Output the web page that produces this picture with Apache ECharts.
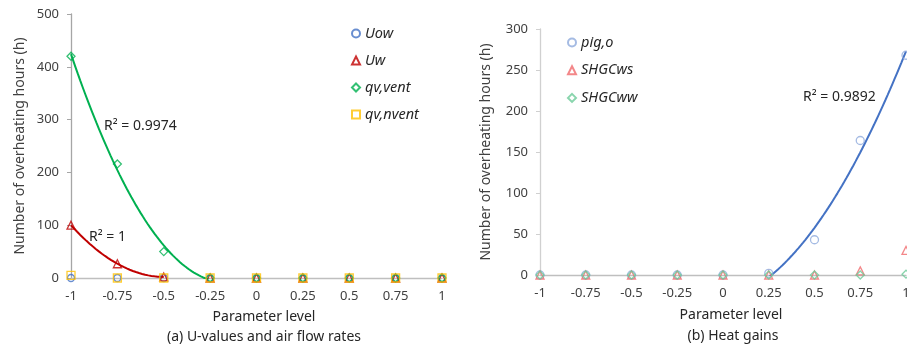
<!DOCTYPE html>
<html><head><meta charset="utf-8">
<script src="https://cdn.jsdelivr.net/npm/echarts@6/dist/echarts.min.js"></script>
<style>html,body{margin:0;padding:0;background:#fff}#c{width:907px;height:348px}</style>
</head><body><div id="c"></div>
<script>
// Parameter levels shared by both panels
const levels = [-1, -0.75, -0.5, -0.25, 0, 0.25, 0.5, 0.75, 1];
const levelLabels = ['-1', '-0.75', '-0.5', '-0.25', '0', '0.25', '0.5', '0.75', '1'];

// (a) U-values and air flow rates — overheating hours
const uow     = [0, 0, 0, 0, 0, 0, 0, 0, 0];
const uw      = [100, 27, 2, 0, 0, 0, 0, 0, 0];
const qvVent  = [420, 216, 50, 0, 0, 0, 0, 0, 0];
const qvNvent = [5, 0, 0, 0, 0, 0, 0, 0, 0];

// (b) Heat gains — overheating hours
const pigO   = [0, 0, 0, 0, 0, 2, 43, 164, 268];
const shgcWs = [0, 0, 0, 0, 0, 0, 0, 5, 30];
const shgcWw = [0, 0, 0, 0, 0, 0, 0, 0, 1];

const yTicksA = [0, 100, 200, 300, 400, 500];
const yTicksB = [0, 50, 100, 150, 200, 250, 300];
const r2Labels = ['R² = 0.9974', 'R² = 1', 'R² = 0.9892'];

// Least-squares quadratic trendline over the points [from, to]
function quadFit(ys, from, to) {
  const xs = levels.slice(from, to + 1), yv = ys.slice(from, to + 1);
  const S = [0, 0, 0, 0, 0], T = [0, 0, 0];
  xs.forEach((x, i) => {
    for (let k = 0; k < 5; k++) S[k] += Math.pow(x, k);
    for (let k = 0; k < 3; k++) T[k] += yv[i] * Math.pow(x, k);
  });
  const M = [[S[0], S[1], S[2], T[0]], [S[1], S[2], S[3], T[1]], [S[2], S[3], S[4], T[2]]];
  for (let i = 0; i < 3; i++) {
    for (let j = i + 1; j < 3; j++) {
      const f = M[j][i] / M[i][i];
      for (let k = i; k < 4; k++) M[j][k] -= f * M[i][k];
    }
  }
  const c = [0, 0, 0];
  for (let i = 2; i >= 0; i--) {
    let s = M[i][3];
    for (let k = i + 1; k < 3; k++) s -= M[i][k] * c[k];
    c[i] = s / M[i][i];
  }
  const pts = [], x0 = xs[0], x1 = xs[xs.length - 1], n = 60;
  for (let i = 0; i <= n; i++) {
    const x = x0 + (x1 - x0) * i / n;
    pts.push([x, c[0] + c[1] * x + c[2] * x * x]);
  }
  return pts;
}

const pairs = ys => levels.map((x, i) => [x, ys[i]]);
const FONT = '"Noto Sans", sans-serif';
const TXT = '#404040';

function marker(name, ys, symbol, color, size, idx) {
  return {
    name, type: 'scatter', xAxisIndex: idx, yAxisIndex: idx,
    data: pairs(ys), symbol, symbolSize: size,
    itemStyle: { color: 'rgba(255,255,255,0)', borderColor: color, borderWidth: 1.3 },
    emphasis: { disabled: true }, z: 3
  };
}
function trend(pts, color, idx) {
  return {
    type: 'line', xAxisIndex: idx, yAxisIndex: idx, data: pts, showSymbol: false,
    lineStyle: { color, width: 2 }, silent: true, z: 2, clip: true
  };
}

function xAxis(gi) {
  return {
    type: 'value', gridIndex: gi, min: -1, max: 1, interval: 0.25,
    axisLine: { onZero: false, lineStyle: { color: '#BFBFBF', width: 1.3 } },
    axisTick: { show: false }, splitLine: { show: false },
    axisLabel: {
      color: TXT, fontFamily: FONT, fontSize: 13, margin: 12,
      formatter: v => levelLabels[levels.indexOf(v)] ?? ''
    }
  };
}
function yAxis(gi, ticks, lineColor, gap) {
  return {
    type: 'value', gridIndex: gi, min: ticks[0], max: ticks[ticks.length - 1],
    interval: ticks[1] - ticks[0],
    name: 'Number of overheating hours (h)', nameLocation: 'middle', nameGap: gap,
    nameTextStyle: { color: TXT, fontFamily: FONT, fontSize: 14 },
    axisLine: { show: true, onZero: false, lineStyle: { color: lineColor, width: 1.3 } },
    axisTick: { show: true, length: 4, lineStyle: { color: lineColor } },
    splitLine: { show: false },
    axisLabel: { color: TXT, fontFamily: FONT, fontSize: 13, margin: 12 }
  };
}

const legendText = { color: '#262626', fontFamily: FONT, fontSize: 14.5, fontStyle: 'italic' };

const chart = echarts.init(document.getElementById('c'), null, { renderer: 'canvas' });
chart.setOption({
  animation: false,
  backgroundColor: '#fff',
  grid: [
    { left: 71, top: 14, width: 371, height: 264, outerBoundsMode: 'none', containLabel: false },
    { left: 540, top: 29, width: 366, height: 246, outerBoundsMode: 'none', containLabel: false }
  ],
  xAxis: [xAxis(0), xAxis(1)],
  yAxis: [yAxis(0, yTicksA, '#A6A6A6', 44), yAxis(1, yTicksB, '#D0D0D0', 47)],
  legend: [
    {
      data: ['Uow', 'Uw', 'qv,vent', 'qv,nvent'], orient: 'vertical', padding: 0,
      left: 351, top: 26, itemWidth: 8, itemHeight: 8, itemGap: 12,
      textStyle: legendText
    },
    {
      data: ['pig,o', 'SHGCws', 'SHGCww'], orient: 'vertical', padding: 0,
      left: 567, top: 35, itemWidth: 8, itemHeight: 8, itemGap: 12.7,
      textStyle: legendText
    }
  ],
  graphic: [
    { type: 'text', left: 104, top: 119, style: { text: r2Labels[0], fill: '#262626', font: '14px ' + FONT } },
    { type: 'text', left: 89, top: 230, style: { text: r2Labels[1], fill: '#262626', font: '14px ' + FONT } },
    { type: 'text', left: 803, top: 90, style: { text: r2Labels[2], fill: '#262626', font: '14px ' + FONT } },
    { type: 'text', x: 264, y: 317, style: { text: 'Parameter level', fill: '#262626', font: '14px ' + FONT, textAlign: 'center', textVerticalAlign: 'middle' } },
    { type: 'text', x: 264, y: 337, style: { text: '(a) U-values and air flow rates', fill: '#262626', font: '14px ' + FONT, textAlign: 'center', textVerticalAlign: 'middle' } },
    { type: 'text', x: 731, y: 315, style: { text: 'Parameter level', fill: '#262626', font: '14px ' + FONT, textAlign: 'center', textVerticalAlign: 'middle' } },
    { type: 'text', x: 733, y: 336, style: { text: '(b) Heat gains', fill: '#262626', font: '14px ' + FONT, textAlign: 'center', textVerticalAlign: 'middle' } }
  ],
  series: [
    trend(quadFit(uw, 0, 2), '#C00000', 0),
    trend(quadFit(qvVent, 0, 3), '#00B050', 0),
    trend(quadFit(pigO, 5, 8), '#4472C4', 1),
    marker('Uow', uow, 'circle', '#4472C4', 7, 0),
    marker('Uw', uw, 'triangle', '#C00000', 8, 0),
    marker('qv,vent', qvVent, 'diamond', '#00B050', 8, 0),
    marker('qv,nvent', qvNvent, 'rect', '#FFC000', 8, 0),
    marker('pig,o', pigO, 'circle', '#8FAADC', 8, 1),
    marker('SHGCws', shgcWs, 'triangle', '#F0696B', 8, 1),
    marker('SHGCww', shgcWw, 'diamond', '#6CCB98', 8, 1)
  ]
});
</script>
</body></html>
